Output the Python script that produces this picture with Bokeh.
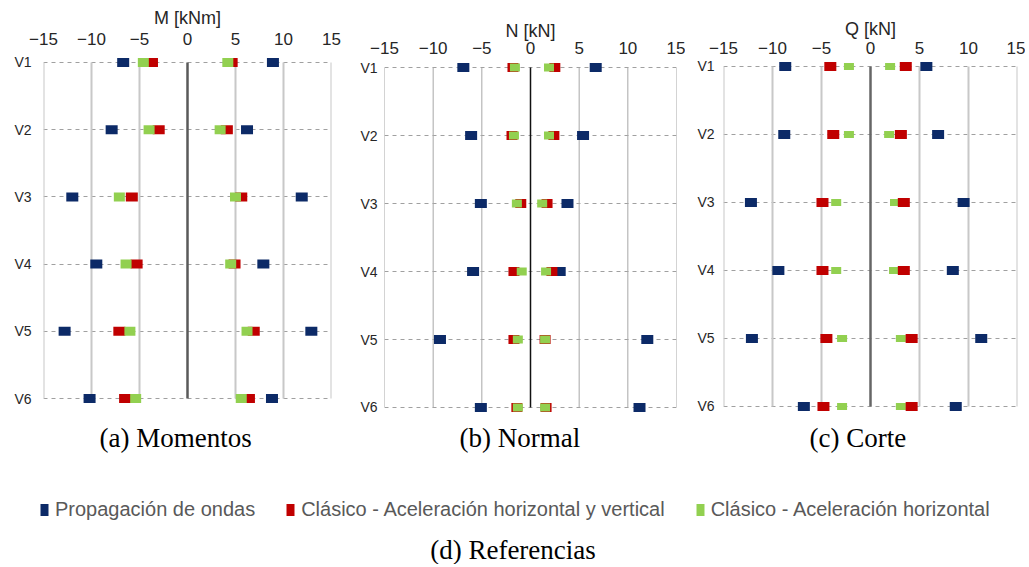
from bokeh.plotting import figure
from bokeh.models import Range1d, FixedTicker, Legend, LegendItem
from bokeh.layouts import column, row
from bokeh.embed import file_html
from bokeh.resources import INLINE

# ---------------- data ----------------
rows = ["V1", "V2", "V3", "V4", "V5", "V6"]
x_ticks = [-15, -10, -5, 0, 5, 10, 15]

series_names = ["Propagación de ondas",
                "Clásico - Aceleración horizontal y vertical",
                "Clásico - Aceleración horizontal"]
series_colors = ["#0c2a67", "#c00000", "#92d050"]

# (a) Momentos  M [kNm]
M_ondas_min = [-6.7, -7.9, -12.0, -9.5, -12.8, -10.2]
M_ondas_max = [8.9, 6.2, 11.9, 7.9, 12.9, 8.8]
M_hv_min = [-3.7, -3.0, -5.8, -5.3, -7.1, -6.5]
M_hv_max = [4.6, 4.1, 5.6, 4.9, 6.9, 6.4]
M_h_min = [-4.6, -4.0, -7.1, -6.4, -6.0, -5.4]
M_h_max = [4.2, 3.4, 5.0, 4.5, 6.2, 5.6]

# (b) Normal  N [kN]
N_ondas_min = [-6.9, -6.1, -5.1, -5.9, -9.3, -5.1]
N_ondas_max = [6.7, 5.4, 3.8, 3.0, 12.0, 11.2]
N_hv_min = [-1.8, -1.9, -1.0, -1.7, -1.7, -1.4]
N_hv_max = [2.5, 2.4, 1.7, 2.2, 1.5, 1.6]
N_h_min = [-1.6, -1.7, -1.4, -0.9, -1.3, -1.3]
N_h_max = [1.9, 1.9, 1.2, 1.6, 1.5, 1.5]

# (c) Corte  Q [kN]
Q_ondas_min = [-8.7, -8.8, -12.2, -9.4, -12.1, -6.8]
Q_ondas_max = [5.7, 6.9, 9.5, 8.4, 11.3, 8.7]
Q_hv_min = [-4.1, -3.8, -4.9, -4.9, -4.5, -4.8]
Q_hv_max = [3.6, 3.1, 3.4, 3.4, 4.2, 4.2]
Q_h_min = [-2.2, -2.2, -3.5, -3.5, -2.9, -2.9]
Q_h_max = [2.0, 1.9, 2.5, 2.4, 3.1, 3.1]

ypos = list(range(1, len(rows) + 1))
FONT = "Liberation Sans"
SERIF = "Liberation Serif"
PANEL_H = 460


def make_panel(axis_label, caption, series, w, bl, br, pad_top, pad_bot,
               grid_color, grid_w, zero_color, zero_w, order, sizes,
               cap_offset, tick_standoff, label_standoff, y_standoff):
    p = figure(width=w, height=PANEL_H,
               x_range=Range1d(x_ticks[0], x_ticks[-1]),
               y_range=Range1d(ypos[-1] + pad_bot, ypos[0] - pad_top),
               x_axis_location="above", output_backend="svg",
               toolbar_location=None, title=caption, title_location="below",
               min_border_left=bl, min_border_right=br,
               min_border_top=56, min_border_bottom=46)
    p.outline_line_color = None
    p.background_fill_color = "white"
    p.border_fill_color = "white"

    xa = p.xaxis[0]
    xa.ticker = FixedTicker(ticks=x_ticks)
    xa.axis_label = axis_label
    xa.axis_line_color = None
    xa.major_tick_line_color = None
    xa.minor_tick_line_color = None
    xa.major_tick_out = 0
    xa.major_tick_in = 0
    xa.major_label_text_font = FONT
    xa.major_label_text_font_size = "17px"
    xa.major_label_text_color = "#262626"
    xa.axis_label_text_font = FONT
    xa.axis_label_text_font_style = "normal"
    xa.axis_label_text_font_size = "18px"
    xa.axis_label_text_color = "#262626"
    xa.major_label_standoff = tick_standoff
    xa.axis_label_standoff = label_standoff

    ya = p.yaxis[0]
    ya.ticker = FixedTicker(ticks=ypos)
    ya.major_label_overrides = {y: r for y, r in zip(ypos, rows)}
    ya.axis_line_color = None
    ya.major_tick_line_color = None
    ya.minor_tick_line_color = None
    ya.major_tick_out = 0
    ya.major_tick_in = 0
    ya.major_label_text_font = FONT
    ya.major_label_text_font_size = "14px"
    ya.major_label_text_color = "#262626"
    ya.major_label_standoff = y_standoff

    p.xgrid.visible = False
    p.ygrid.grid_line_color = "#a0a0a0"
    p.ygrid.grid_line_dash = "4 4"
    p.ygrid.grid_line_width = 1

    inner = [t for t in x_ticks if t != 0]
    p.segment(x0=inner, y0=[ypos[0]] * len(inner), x1=inner,
              y1=[ypos[-1]] * len(inner), line_color=grid_color,
              line_width=grid_w)
    p.segment(x0=[0], y0=[ypos[0]], x1=[0], y1=[ypos[-1]],
              line_color=zero_color, line_width=zero_w)

    for k in order:
        lo, hi = series[k]
        sw, sh = sizes[k]
        p.rect(x=lo + hi, y=ypos + ypos, width=sw, height=sh,
               width_units="screen", height_units="screen",
               fill_color=series_colors[k], line_color=None)

    t = p.title
    t.text_font = SERIF
    t.text_font_size = "27px"
    t.text_font_style = "normal"
    t.text_color = "black"
    t.align = "left"
    t.offset = cap_offset
    t.standoff = 13
    return p


p1 = make_panel("M [kNm]", "(a) Momentos",
                [(M_ondas_min, M_ondas_max), (M_hv_min, M_hv_max), (M_h_min, M_h_max)],
                345, 43, 14, 0.089, 0.238, "#c8c8c8", 2, "#5a5a5a", 2.5,
                [0, 1, 2], [(12, 9), (12, 9), (11, 9)], 56, 12, 2, 12)
p2 = make_panel("N [kN]", "(b) Normal",
                [(N_ondas_min, N_ondas_max), (N_hv_min, N_hv_max), (N_h_min, N_h_max)],
                340, 39, 9, 0.162, 0.103, "#a8a8a8", 1, "#111111", 1.5,
                [0, 1, 2], [(12, 9), (11, 9), (10, 8)], 75, 3, -2, 7)
p3 = make_panel("Q [kN]", "(c) Corte",
                [(Q_ondas_min, Q_ondas_max), (Q_hv_min, Q_hv_max), (Q_h_min, Q_h_max)],
                340, 38, 8, 0.147, 0.118, "#c8c8c8", 2, "#666666", 2.5,
                [0, 2, 1], [(12, 9), (12, 9), (10, 7)], 86, 3, 0, 9)

# ---------------- legend strip ----------------
p4 = figure(width=1025, height=104, x_axis_type=None, y_axis_type=None,
            x_range=Range1d(0, 1), y_range=Range1d(-2, -1),
            output_backend="svg", toolbar_location=None,
            title="(d) Referencias", title_location="below", min_border=0)
p4.outline_line_color = None
legend_src = [(M_ondas_min, M_ondas_max), (M_hv_min, M_hv_max), (M_h_min, M_h_max)]
items = []
for name, color, (lo, hi) in zip(series_names, series_colors, legend_src):
    # real data, kept outside this strip's visible range: only the legend swatch shows
    r = p4.rect(x=lo + hi, y=ypos + ypos, width=0.01, height=0.01,
                fill_color=color, line_color=None)
    items.append(LegendItem(label=name, renderers=[r]))
legend = Legend(items=items, orientation="horizontal", location=(39, 11),
                glyph_width=10, glyph_height=15, label_standoff=6, spacing=30,
                padding=0, margin=0, border_line_color=None,
                background_fill_alpha=0, label_text_font=FONT,
                label_text_font_size="20px", label_text_color="#595959")
p4.add_layout(legend)
t4 = p4.title
t4.text_font = SERIF
t4.text_font_size = "27px"
t4.text_font_style = "normal"
t4.text_color = "black"
t4.align = "center"
t4.standoff = 0

layout = column(row(p1, p2, p3), p4)
open("out.html", "w").write(file_html(layout, INLINE))
